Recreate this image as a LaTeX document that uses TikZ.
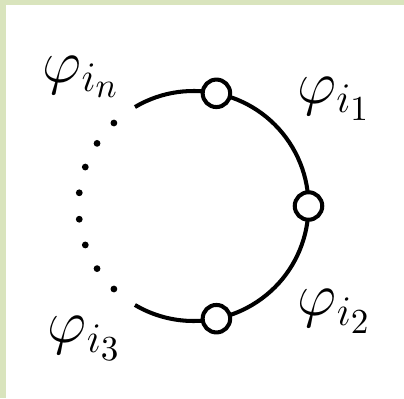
\documentclass[tikz,border=0pt]{standalone}
\usepackage{tikz}
\definecolor{framegreen}{RGB}{217,228,189}

\begin{document}
\begin{tikzpicture}[font=\LARGE,
    vertex/.style={circle, draw, fill=white, line width=1.15pt, minimum size=2.75mm, inner sep=0pt}]
    \useasboundingbox (-1.935,-1.92) rectangle (2.105,2.06);
    \fill[framegreen] (-1.935,-1.92) rectangle (2.105,2.06);
    \fill[white] (-1.875,-1.92) rectangle (2.105,2.01);
    \def\rad{1.15}
    \coordinate (top end) at (120.6:\rad);
    \draw[line width=1.15pt] (top end) arc[start angle=120.6, end angle=-120.6, radius=\rad];
    \node[vertex] (v1) at (78.5:\rad) {};
    \node[vertex] (v2) at (0:\rad) {};
    \node[vertex] (v3) at (-78.5:\rad) {};
    \foreach \a in {133.8,147,160.2,173.4,186.6,199.8,213,226.2} \fill (\a:\rad) circle (0.34mm);
    \node[inner sep=0pt] (phin) at (-1.12,1.29) {$\varphi_{i_n}$};
    \node[inner sep=0pt] (phi1) at (1.41,1.07) {$\varphi_{i_1}$};
    \node[inner sep=0pt] (phi2) at (1.415,-1.055) {$\varphi_{i_2}$};
    \node[inner sep=0pt] (phi3) at (-1.085,-1.325) {$\varphi_{i_3}$};
\end{tikzpicture}
\end{document}
